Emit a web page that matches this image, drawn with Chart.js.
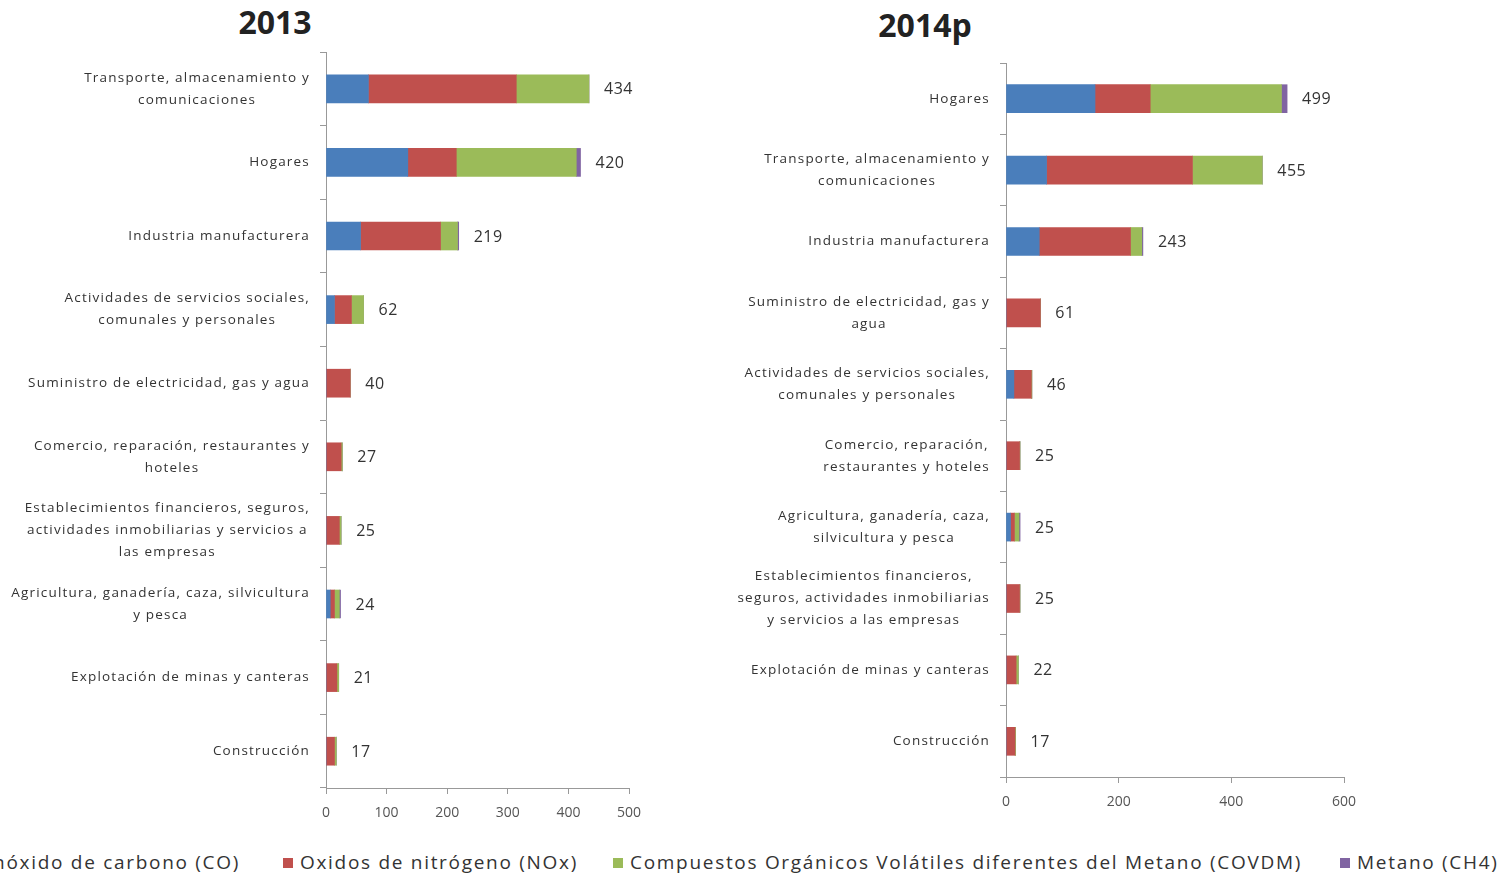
<!DOCTYPE html>
<html>
<head>
<meta charset="utf-8">
<script src="https://cdn.jsdelivr.net/npm/chart.js@4/dist/chart.umd.min.js"></script>
<style>
  body { margin: 0; background: #fff; width: 1510px; height: 877px; overflow: hidden; position: relative; font-family: "Open Sans", sans-serif; }
  canvas { position: absolute; }
  .title { position: absolute; font-weight: bold; font-size: 32px; color: #222; transform: translateX(-50%); }
  .leg { position: absolute; top: 849px; font-size: 19px; letter-spacing: 1.7px; color: #333; white-space: nowrap; line-height: 26px; }
  .leg i { display: inline-block; width: 10px; height: 10px; margin-right: 7px; vertical-align: 1px; }
</style>
</head>
<body>
<div class="title" style="left:275px; top:0px;">2013</div>
<div class="title" style="left:925px; top:3px;">2014p</div>
<canvas id="c2013" width="660" height="828" style="left:0; top:0;"></canvas>
<canvas id="c2014" width="850" height="817" style="left:660px; top:0;"></canvas>

<div class="leg" style="right:1270px;"><i style="background:#4a7ebb"></i>Monóxido de carbono (CO)</div>
<div class="leg" style="left:283px;"><i style="background:#c0504d"></i>Oxidos de nitrógeno (NOx)</div>
<div class="leg" style="left:613px;"><i style="background:#9bbb59"></i>Compuestos Orgánicos Volátiles diferentes del Metano (COVDM)</div>
<div class="leg" style="left:1340px;"><i style="background:#8064a2"></i>Metano (CH4)</div>

<script>
// 2013
const categories2013 = [
  ['Transporte, almacenamiento y', 'comunicaciones'],
  ['Hogares'],
  ['Industria manufacturera'],
  ['Actividades de servicios sociales,', 'comunales y personales'],
  ['Suministro de electricidad, gas y agua'],
  ['Comercio, reparación, restaurantes y', 'hoteles'],
  ['Establecimientos financieros, seguros,', 'actividades inmobiliarias y servicios a', 'las empresas'],
  ['Agricultura, ganadería, caza, silvicultura', 'y pesca'],
  ['Explotación de minas y canteras'],
  ['Construcción']
];
const co2013    = [70, 135, 57, 14, 0, 0, 0, 7, 0, 0];
const nox2013   = [244, 80, 132, 28, 40, 25, 22, 7, 18, 14];
const covdm2013 = [120, 198, 28, 20, 0, 2, 3, 8, 3, 3];
const ch42013   = [0, 7, 2, 0, 0, 0, 0, 2, 0, 0];

// 2014p
const categories2014 = [
  ['Hogares'],
  ['Transporte, almacenamiento y', 'comunicaciones'],
  ['Industria manufacturera'],
  ['Suministro de electricidad, gas y', 'agua'],
  ['Actividades de servicios sociales,', 'comunales y personales'],
  ['Comercio, reparación,', 'restaurantes y hoteles'],
  ['Agricultura, ganadería, caza,', 'silvicultura y pesca'],
  ['Establecimientos financieros,', 'seguros, actividades inmobiliarias', 'y servicios a las empresas'],
  ['Explotación de minas y canteras'],
  ['Construcción']
];
const co2014    = [158, 72, 59, 0, 14, 0, 8, 0, 0, 0];
const nox2014   = [98, 259, 162, 61, 31, 24, 7, 24, 18, 16];
const covdm2014 = [233, 124, 20, 0, 1, 1, 8, 1, 4, 1];
const ch42014   = [10, 0, 2, 0, 0, 0, 2, 0, 0, 0];

const seriesNames = ['Monóxido de carbono (CO)', 'Oxidos de nitrógeno (NOx)',
  'Compuestos Orgánicos Volátiles diferentes del Metano (COVDM)', 'Metano (CH4)'];
const colors = ['#4a7ebb', '#c0504d', '#9bbb59', '#8064a2'];

// draws the category labels (lines centred on each other, block right-aligned to the axis)
const yLabels = {
  id: 'yLabels',
  afterDraw(chart) {
    const ctx = chart.ctx;
    const y = chart.scales.y;
    ctx.save();
    ctx.font = '13.5px "Open Sans"';
    ctx.letterSpacing = '1.2px';
    ctx.fillStyle = '#333';
    ctx.textAlign = 'center';
    ctx.textBaseline = 'middle';
    const lh = 22;
    chart.data.labels.forEach((lines, i) => {
      const w = Math.max(...lines.map(l => ctx.measureText(l).width));
      const cx = y.right - 16 - w / 2;
      const cy = y.getPixelForValue(i);
      lines.forEach((l, k) => {
        ctx.fillText(l, cx, cy + (k - (lines.length - 1) / 2) * lh);
      });
    });
    ctx.restore();
  }
};

// total value to the right of each stacked bar
const totals = {
  id: 'totals',
  afterDatasetsDraw(chart) {
    const ctx = chart.ctx;
    const x = chart.scales.x, y = chart.scales.y;
    ctx.save();
    ctx.font = '16px "Open Sans"';
    ctx.letterSpacing = '0.5px';
    ctx.fillStyle = '#333';
    ctx.textBaseline = 'middle';
    chart.data.labels.forEach((_, i) => {
      const sum = chart.data.datasets.reduce((s, d) => s + d.data[i], 0);
      ctx.fillText(String(sum), x.getPixelForValue(sum) + 15, y.getPixelForValue(i) + 1);
    });
    ctx.restore();
  }
};

function makeChart(id, labels, series, xMax, xStep, yWidth, padTop, padRight) {
  return new Chart(document.getElementById(id), {
    type: 'bar',
    data: {
      labels: labels,
      datasets: series.map((d, k) => ({
        label: seriesNames[k],
        data: d,
        backgroundColor: colors[k],
        barThickness: 28
      }))
    },
    options: {
      indexAxis: 'y',
      responsive: false,
      animation: false,
      layout: { padding: { top: padTop, right: padRight, left: 0, bottom: 0 } },
      plugins: { legend: { display: false }, tooltip: { enabled: false } },
      scales: {
        x: {
          stacked: true,
          min: 0, max: xMax,
          ticks: { stepSize: xStep, color: '#555', font: { size: 14, family: '"Open Sans"' }, padding: 11 },
          grid: { drawOnChartArea: false, tickLength: 6, color: '#999' },
          border: { color: '#999' },
          afterFit(s) { s.height = 40; }
        },
        y: {
          stacked: true,
          ticks: { display: false },
          grid: { offset: true, drawOnChartArea: false, tickLength: 6, color: '#999' },
          border: { color: '#999' },
          afterFit(s) { s.width = yWidth; }
        }
      }
    },
    plugins: [yLabels, totals]
  });
}

makeChart('c2013', categories2013, [co2013, nox2013, covdm2013, ch42013], 500, 100, 326, 52, 31);
makeChart('c2014', categories2014, [co2014, nox2014, covdm2014, ch42014], 600, 200, 346, 63, 166);
</script>
</body>
</html>
